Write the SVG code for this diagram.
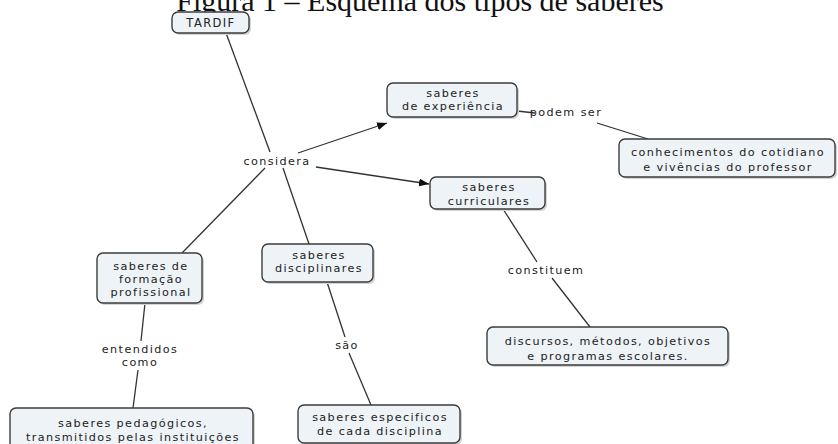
<svg xmlns="http://www.w3.org/2000/svg" width="838" height="444" viewBox="0 0 838 444">
<defs>
<style>
.box{fill:#edf3f7;stroke:#3c3c3c;stroke-width:1.4}
.sh{fill:#d4d4d4}
.t{font-family:"DejaVu Sans",Verdana,sans-serif;font-size:11.2px;fill:#222;text-anchor:middle;letter-spacing:1.4px}
.ln{stroke:#333;stroke-width:1.3;fill:none}
.title{font-family:"Liberation Serif","Times New Roman",serif;font-size:30px;fill:#111;text-anchor:middle}
</style>
<marker id="ah" viewBox="0 0 10 8" refX="10" refY="4" markerWidth="10" markerHeight="8" markerUnits="userSpaceOnUse" orient="auto">
<path d="M0,0 L10,4 L0,8 z" fill="#111"/>
</marker>
</defs>
<rect width="838" height="444" fill="#fff"/>
<text class="title" x="420" y="11">Figura 1 – Esquema dos tipos de saberes</text>

<g id="connectors">
<line class="ln" x1="226" y1="33" x2="270" y2="152"/>
<line class="ln" x1="283" y1="168" x2="309" y2="244"/>
<line class="ln" x1="298" y1="153" x2="387" y2="123" marker-end="url(#ah)"/>
<line class="ln" x1="316" y1="167" x2="429" y2="184" marker-end="url(#ah)"/>
<line class="ln" x1="265" y1="168" x2="182" y2="253"/>
<line class="ln" x1="517" y1="111" x2="535" y2="113"/>
<line class="ln" x1="597" y1="123" x2="648" y2="139"/>
<line class="ln" x1="503" y1="209" x2="537" y2="262"/>
<line class="ln" x1="552" y1="278" x2="590" y2="327"/>
<line class="ln" x1="145" y1="303" x2="141" y2="341"/>
<line class="ln" x1="138" y1="370" x2="133" y2="408"/>
<line class="ln" x1="327" y1="282" x2="345" y2="337"/>
<line class="ln" x1="349" y1="353" x2="371" y2="405"/>
</g>

<g id="labels">
<text class="t" x="277" y="165">considera</text>
<text class="t" x="566" y="116">podem ser</text>
<text class="t" x="546" y="274">constituem</text>
<text class="t" x="140" y="353">entendidos</text>
<text class="t" x="140" y="366">como</text>
<text class="t" x="347" y="349">são</text>
</g>

<g id="tardif">
<rect class="sh" x="174" y="14" width="77" height="21" rx="6"/>
<rect class="box" x="172" y="12" width="77" height="21" rx="6"/>
<text class="t" x="211" y="27" style="font-size:11.5px">TARDIF</text>
</g>

<g id="experiencia">
<rect class="sh" x="389" y="85" width="130" height="34" rx="6"/>
<rect class="box" x="387" y="83" width="130" height="34" rx="6"/>
<text class="t" x="453" y="97">saberes</text>
<text class="t" x="453" y="110">de experiência</text>
</g>

<g id="conhecimentos">
<rect class="sh" x="621" y="141" width="216" height="38" rx="6"/>
<rect class="box" x="619" y="139" width="216" height="38" rx="6"/>
<text class="t" x="728" y="156">conhecimentos do cotidiano</text>
<text class="t" x="728" y="171">e vivências do professor</text>
</g>

<g id="curriculares">
<rect class="sh" x="432" y="179" width="115" height="32" rx="6"/>
<rect class="box" x="430" y="177" width="115" height="32" rx="6"/>
<text class="t" x="489" y="191">saberes</text>
<text class="t" x="489" y="205">curriculares</text>
</g>

<g id="discursos">
<rect class="sh" x="489" y="329" width="241" height="38" rx="6"/>
<rect class="box" x="487" y="327" width="241" height="38" rx="6"/>
<text class="t" x="608" y="345">discursos, métodos, objetivos</text>
<text class="t" x="608" y="360">e programas escolares.</text>
</g>

<g id="formacao">
<rect class="sh" x="99" y="255" width="105" height="50" rx="6"/>
<rect class="box" x="97" y="253" width="105" height="50" rx="6"/>
<text class="t" x="151" y="270">saberes de</text>
<text class="t" x="151" y="283">formação</text>
<text class="t" x="151" y="296">profissional</text>
</g>

<g id="pedagogicos">
<rect class="sh" x="12" y="410" width="243" height="42" rx="6"/>
<rect class="box" x="10" y="408" width="243" height="42" rx="6"/>
<text class="t" x="133" y="427">saberes pedagógicos,</text>
<text class="t" x="133" y="441">transmitidos pelas instituições</text>
</g>

<g id="disciplinares">
<rect class="sh" x="264" y="246" width="111" height="38" rx="6"/>
<rect class="box" x="262" y="244" width="111" height="38" rx="6"/>
<text class="t" x="319" y="259">saberes</text>
<text class="t" x="319" y="272">disciplinares</text>
</g>

<g id="especificos">
<rect class="sh" x="300" y="407" width="162" height="38" rx="6"/>
<rect class="box" x="298" y="405" width="162" height="38" rx="6"/>
<text class="t" x="380" y="421">saberes especificos</text>
<text class="t" x="380" y="435">de cada disciplina</text>
</g>
</svg>
